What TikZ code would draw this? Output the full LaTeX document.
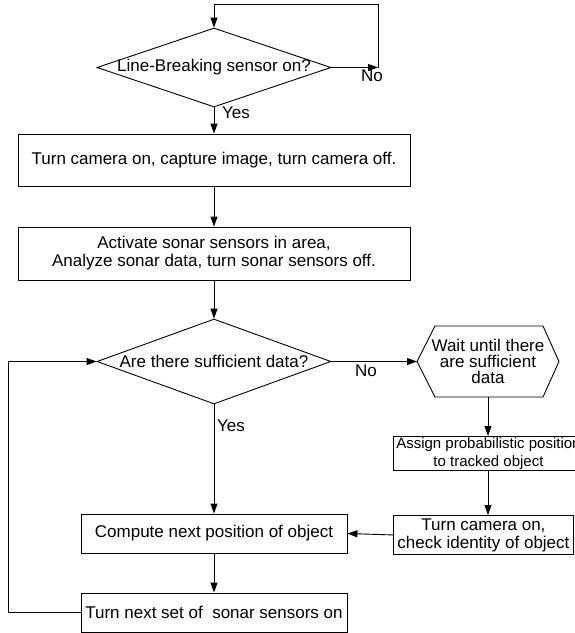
\documentclass[tikz,border=0pt]{standalone}
\usepackage{fontspec}
\setmainfont{Liberation Sans}
\usetikzlibrary{shapes.geometric,arrows.meta}

\begin{document}
\begin{tikzpicture}[x=1pt,y=-1pt,
  every node/.style={font=\fontsize{17}{18}\selectfont, inner sep=0pt},
  line/.style={line width=0.9pt},
  flow/.style={line, -{Triangle[length=10pt,width=7pt]}},
  procbox/.style={draw, line width=0.9pt, rectangle, align=center},
  decision/.style={draw, line width=0.9pt, diamond, minimum width=234pt},
  tag/.style={font=\fontsize{17}{18}\selectfont}
]
\useasboundingbox (0,0) rectangle (575,633);
\clip (0,0) rectangle (575,633);

% decisions
\node[decision, minimum height=79pt, label={center:Line-Breaking sensor on?}] (sensor) at (214,67.5) {};
\node[decision, minimum height=85pt, label={center:Are there sufficient data?}] (enough) at (214,361.5) {};

% main column of process steps
\node[procbox, minimum width=392pt, minimum height=52pt] (capture) at (214,160)
  {Turn camera on, capture image, turn camera off.};
\node[procbox, minimum width=392pt, minimum height=53pt] (sonar) at (214,253.5)
  {Activate sonar sensors in area,\\Analyze sonar data, turn sonar sensors off.};
\node[procbox, minimum width=266pt, minimum height=39pt] (compute) at (214,533.5)
  {Compute next position of object};
\node[procbox, minimum width=266pt, minimum height=39pt] (nextset) at (214,612.5)
  {Turn next set of\ \ sonar sensors on};

% right branch: hexagonal wait step
\node[align=center, font=\fontsize{17}{16}\selectfont] (wait) at (488,361.5)
  {Wait until there\\are sufficient\\data};
\coordinate (waitW) at (417,361.5);
\coordinate (waitS) at (488,397);
\draw[line] (waitW) -- (435,326) -- (543,326) -- (559,361.5) -- (543,397) -- (435,397) -- cycle;

\node[procbox, minimum width=190pt, minimum height=34pt, anchor=north west,
  font=\fontsize{15}{18}\selectfont] (assign) at (393,436)
  {Assign probabilistic position\\to tracked object};
\node[procbox, minimum width=180pt, minimum height=39pt, anchor=north west] (check) at (393,515)
  {Turn camera on,\\check identity of object};

% loop coordinates
\coordinate (nocorner) at (378,67.5);
\coordinate (toptop) at (378,4);
\coordinate (loopleft) at (8,612.5);
\coordinate (loopup) at (8,361.5);

% connectors
\draw[flow] (sensor.east) -- (nocorner);
\draw[flow] (nocorner) -- (toptop) -| (sensor.north);
\draw[flow] (sensor.south) -- (capture.north);
\draw[flow] (capture.south) -- (sonar.north);
\draw[flow] (sonar.south) -- (enough.north);
\draw[flow] (enough.east) -- (waitW);
\draw[flow] (waitS) -- (waitS |- assign.north);
\draw[flow] (waitS |- assign.south) -- (waitS |- check.north);
\draw[flow] (check.west) -- (compute.east);
\draw[flow] (enough.south) -- (compute.north);
\draw[flow] (compute.south) -- (nextset.north);
\draw[flow] (nextset.west) -- (loopleft) -- (loopup) -- (enough.west);

% branch labels
\node[tag] (no1) at (372,76) {No};
\node[tag] (yes1) at (236,113) {Yes};
\node[tag] (no2) at (366,371) {No};
\node[tag] (yes2) at (231,426) {Yes};
\end{tikzpicture}
\end{document}
